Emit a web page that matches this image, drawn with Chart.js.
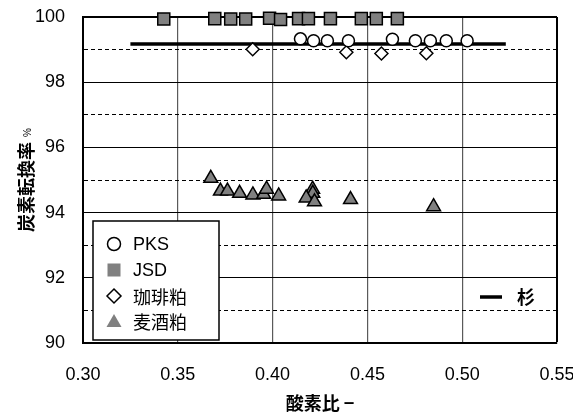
<!DOCTYPE html>
<html><head><meta charset="utf-8">
<script src="https://cdn.jsdelivr.net/npm/chart.js@4.4.0/dist/chart.umd.min.js"></script>
<style>html,body{margin:0;padding:0;background:#fff}</style>
</head><body>
<canvas id="c" width="573" height="415"></canvas>
<script>
// ---- data ----
const pksX = [0.4147, 0.4216, 0.4289, 0.4400, 0.4632, 0.4753, 0.4832, 0.4916, 0.5026];
const pksY = [99.33, 99.27, 99.27, 99.27, 99.32, 99.27, 99.27, 99.27, 99.27];
const jsdX = [0.3426, 0.3695, 0.3779, 0.3858, 0.3984, 0.4042, 0.4137, 0.4189, 0.4305, 0.4468, 0.4547, 0.4658];
const jsdY = [99.94, 99.95, 99.94, 99.94, 99.96, 99.92, 99.95, 99.95, 99.95, 99.95, 99.95, 99.95];
const coffeeX = [0.3895, 0.4389, 0.4574, 0.4811];
const coffeeY = [99.01, 98.92, 98.88, 98.89];
const beerX = [0.3674, 0.3725, 0.3762, 0.3826, 0.3896, 0.3953, 0.3968, 0.4032, 0.4211, 0.4212, 0.4177, 0.4221, 0.4411, 0.4849];
const beerY = [95.05, 94.66, 94.66, 94.59, 94.54, 94.56, 94.72, 94.51, 94.72, 94.59, 94.45, 94.33, 94.40, 94.18];
const sugiX = [0.325, 0.523];
const sugiY = [99.17, 99.17];
const xTicks = [0.30, 0.35, 0.40, 0.45, 0.50, 0.55];
const yGrid = [90, 91, 92, 93, 94, 95, 96, 97, 98, 99, 100];
const yTickLabels = [90, 92, 94, 96, 98, 100];
const seriesNames = ['PKS', 'JSD', '珈琲粕', '麦酒粕'];
const sugiName = '杉';
const xTitle = '酸素比 −';
const yTitle = '炭素転換率';
const yUnit = '%';

const FONT_NUM = "'Liberation Sans', Arial, sans-serif";
const FONT_JP = "'Noto Sans CJK JP', 'Liberation Sans', sans-serif";
const GREY = '#808080';
const pts = (xs, ys) => xs.map((x, i) => ({x: x, y: ys[i]}));

const overlay = {
  id: 'overlay',
  afterDatasetsDraw(chart) {
    const ctx = chart.ctx, a = chart.chartArea;
    ctx.save();
    const bx = a.left + 10, by = a.bottom - 122, bw = 126, bh = 119;
    ctx.fillStyle = '#fff'; ctx.fillRect(bx, by, bw, bh);
    ctx.strokeStyle = '#000'; ctx.lineWidth = 1.5; ctx.strokeRect(bx, by, bw, bh);
    const rows = [a.bottom - 99, a.bottom - 73, a.bottom - 47, a.bottom - 22];
    const mx = a.left + 31, tx = a.left + 50;
    ctx.lineWidth = 1.5;
    ctx.beginPath(); ctx.arc(mx, rows[0], 6.5, 0, Math.PI * 2); ctx.fillStyle = '#fff'; ctx.fill(); ctx.strokeStyle = '#000'; ctx.stroke();
    ctx.fillStyle = GREY; ctx.fillRect(mx - 6.5, rows[1] - 6.5, 13, 13);
    ctx.beginPath(); ctx.moveTo(mx, rows[2] - 7); ctx.lineTo(mx + 7, rows[2]); ctx.lineTo(mx, rows[2] + 7); ctx.lineTo(mx - 7, rows[2]); ctx.closePath();
    ctx.fillStyle = '#fff'; ctx.fill(); ctx.stroke();
    ctx.beginPath(); ctx.moveTo(mx, rows[3] - 7); ctx.lineTo(mx + 7.5, rows[3] + 6); ctx.lineTo(mx - 7.5, rows[3] + 6); ctx.closePath();
    ctx.fillStyle = GREY; ctx.fill();
    ctx.fillStyle = '#000'; ctx.textBaseline = 'middle'; ctx.textAlign = 'left';
    seriesNames.forEach((n, i) => {
      ctx.font = (i < 2 ? '18px ' + FONT_NUM : '18px ' + FONT_JP);
      ctx.fillText(n, tx, rows[i] + 1);
    });
    const sy = a.bottom - 46;
    ctx.beginPath(); ctx.moveTo(a.right - 77, sy); ctx.lineTo(a.right - 55, sy);
    ctx.lineWidth = 3.5; ctx.strokeStyle = '#000'; ctx.stroke();
    ctx.font = 'bold 18px ' + FONT_JP; ctx.fillText(sugiName, a.right - 40, sy);
    ctx.restore();
  },
  afterDraw(chart) {
    const ctx = chart.ctx, a = chart.chartArea;
    ctx.save();
    ctx.translate(25, (a.top + a.bottom) / 2);
    ctx.rotate(-Math.PI / 2);
    ctx.fillStyle = '#000';
    ctx.font = 'bold 18px ' + FONT_JP;
    const w1 = ctx.measureText(yTitle).width;
    ctx.font = '10px ' + FONT_NUM;
    const w2 = ctx.measureText(yUnit).width;
    const gap = 5, total = w1 + gap + w2;
    const sx = -total / 2;
    ctx.textAlign = 'left'; ctx.textBaseline = 'middle';
    ctx.font = 'bold 18px ' + FONT_JP;
    ctx.fillText(yTitle, sx, 1);
    ctx.font = '10px ' + FONT_NUM;
    ctx.fillText(yUnit, sx + w1 + gap, 3);
    ctx.restore();
  }
};

new Chart(document.getElementById('c'), {
  type: 'scatter',
  data: {
    datasets: [
      {label: seriesNames[0], data: pts(pksX, pksY), pointStyle: 'circle', pointRadius: 6, pointBackgroundColor: '#fff', pointBorderColor: '#000', pointBorderWidth: 1.5, clip: false},
      {label: seriesNames[1], data: pts(jsdX, jsdY), pointStyle: 'rect', pointRadius: 8.5, pointBackgroundColor: GREY, pointBorderColor: '#000', pointBorderWidth: 1.5, clip: false},
      {label: seriesNames[2], data: pts(coffeeX, coffeeY), pointStyle: 'rectRot', pointRadius: 6.5, pointBackgroundColor: '#fff', pointBorderColor: '#000', pointBorderWidth: 1.5, clip: false},
      {label: seriesNames[3], data: pts(beerX, beerY), pointStyle: 'triangle', pointRadius: 8, pointBackgroundColor: GREY, pointBorderColor: '#000', pointBorderWidth: 1.5, clip: false},
      {label: sugiName, type: 'line', data: pts(sugiX, sugiY), borderColor: '#000', borderWidth: 3.5, pointRadius: 0, fill: false, showLine: true, clip: false}
    ]
  },
  options: {
    responsive: false, animation: false, devicePixelRatio: 1,
    layout: {padding: {left: 0, top: 17, right: 0, bottom: 0}},
    plugins: {legend: {display: false}, tooltip: {enabled: false}},
    scales: {
      x: {
        type: 'linear', min: 0.30, max: 0.55,
        afterBuildTicks: s => { s.ticks = xTicks.map(v => ({value: v})); },
        afterFit: s => { s.height = 72; s.paddingRight = 16; s.paddingLeft = 0; },
        ticks: {callback: v => Number(v).toFixed(2), font: {family: FONT_NUM, size: 18}, color: '#000', padding: 21, maxRotation: 0, autoSkip: false},
        grid: {drawTicks: false,
          color: c => (c.tick && Math.abs(c.tick.value - 0.55) < 1e-6) ? '#000' : '#5a5a5a',
          lineWidth: c => (c.tick && Math.abs(c.tick.value - 0.55) < 1e-6) ? 2 : 1.2},
        border: {color: '#000', width: 2},
        title: {display: true, text: xTitle, color: '#000', font: {family: FONT_JP, size: 18, weight: 'bold'}, padding: {top: 0, bottom: 1}}
      },
      y: {
        type: 'linear', min: 90, max: 100,
        afterBuildTicks: s => { s.ticks = yGrid.map(v => ({value: v})); },
        afterFit: s => { s.width = 83; s.paddingTop = 0; s.paddingBottom = 0; },
        ticks: {callback: v => yTickLabels.includes(Math.round(v)) ? String(Math.round(v)) : '', font: {family: FONT_NUM, size: 18}, color: '#000', padding: 18, autoSkip: false},
        grid: {drawTicks: false, color: '#000',
          lineWidth: c => (c.tick && c.tick.value === 100) ? 2 : 1},
        border: {color: '#000', width: 2,
          dash: c => (c.tick && Math.round(c.tick.value) % 2 === 1) ? [4, 3] : []}
      }
    }
  },
  plugins: [overlay]
});
</script>
</body></html>
